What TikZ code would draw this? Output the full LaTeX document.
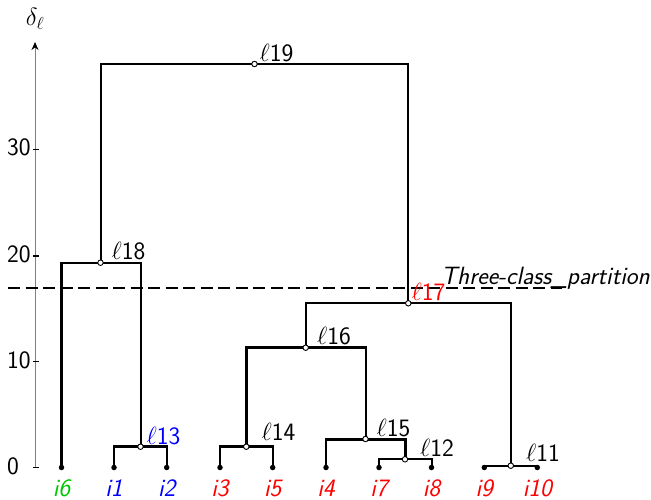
\documentclass[tikz,border=0pt]{standalone}
\usetikzlibrary{arrows.meta,calc}
\definecolor{lgreen}{RGB}{0,200,0}
\definecolor{lred}{RGB}{255,0,0}
\definecolor{lblue}{RGB}{0,0,255}
\begin{document}
\begin{tikzpicture}[x=1pt,y=-1pt,
  br/.style={line width=2pt,line cap=rect},
  thk/.style={line width=3pt,line cap=rect},
  leaf/.style={circle,fill=black,inner sep=0pt,minimum size=5.5pt},
  merge/.style={circle,draw=black,fill=white,line width=0.9pt,inner sep=0pt,minimum size=5.5pt},
  lab/.style={anchor=south west,inner sep=0pt,font=\fontsize{25}{29}\selectfont\sffamily},
  leaflab/.style={anchor=base,inner sep=0pt,font=\fontsize{25}{29}\selectfont\sffamily\itshape},
  ticklab/.style={anchor=west,inner sep=0pt,font=\fontsize{25}{29}\selectfont\sffamily}]
\useasboundingbox (0,0) rectangle (651,500);
% axis
\coordinate (ax0) at (35,467.5);
\coordinate (axtop) at (35,42);
\draw[gray,line width=1pt,-{Stealth[black,length=8pt,width=7pt]}] (ax0) -- (axtop);
\node[inner sep=0pt,font=\fontsize{27}{30}\selectfont] (dl) at (35,19) {$\delta_\ell$};
\foreach \v/\y in {0/467.5,10/361.7,20/256,30/149.3}{
  \draw[line width=1.2pt] (33,\y) -- (38.5,\y);
  \node[ticklab] (t\v) at (7,\y-1.5) {\v};
}
% leaves
\foreach \n/\x in {i6/61.5,i1/114,i2/166.7,i3/220,i5/272.7,i4/326,i7/379,i8/431.5,i9/484.3,i10/537.3}{
  \coordinate (\n) at (\x,467.5);
}
% merges
\coordinate (l11) at (510.8,465.7);
\coordinate (l12) at (405,459.3);
\coordinate (l13) at (140.5,446.7);
\coordinate (l14) at (246.3,446.7);
\coordinate (l15) at (365.5,439);
\coordinate (l16) at (305.7,347.7);
\coordinate (l17) at (408.3,303.3);
\coordinate (l18) at (100.5,262.7);
\coordinate (l19) at (254.5,64);
% dashed partition line
\coordinate (dA) at (8,287.7);
\coordinate (dB) at (562,287.7);
\draw[line width=2pt,dash pattern=on 12pt off 5.5pt] (dA) -- (dB);
\node[anchor=base west,inner sep=0pt,font=\fontsize{25}{29}\selectfont\sffamily\itshape] (part) at (441,284.5) {Three-class\_partition};
% branches
% l11
\draw[br] (i9) -- (i9 |- l11) -- (l11);
\draw[br] (i10) -- (i10 |- l11) -- (l11);
% l12
\draw[br] (i7) -- (i7 |- l12) -- (l12);
\draw[br] (i8) -- (i8 |- l12) -- (l12);
% l13
\draw[br] (i1) -- (i1 |- l13);
\draw[br] (i2) -- (i2 |- l13);
\draw[thk] (i1 |- l13) -- (i2 |- l13);
% l14
\draw[br] (i3) -- (i3 |- l14);
\draw[br] (i5) -- (i5 |- l14);
\draw[thk] (i3 |- l14) -- (i5 |- l14);
% l15
\draw[br] (i4) -- (i4 |- l15);
\draw[thk] (l12) -- (l12 |- l15);
\draw[thk] (i4 |- l15) -- (l12 |- l15);
% l16
\draw[thk] (l14) -- (l14 |- l16);
\draw[br] (l15) -- (l15 |- l16);
\draw[thk] (l14 |- l16) -- (l15 |- l16);
% l17
\draw[br] (l16) -- (l16 |- l17) -- (l17);
\draw[br] (l11) -- (l11 |- l17) -- (l17);
% l18
\draw[thk,line cap=butt] (i6) -- ($(i6 |- l18)+(0,-1)$);
\draw[br] (l13) -- (l13 |- l18);
\draw[br] (i6 |- l18) -- (l13 |- l18);
% l19
\draw[br] (l18) -- (l18 |- l19) -- (l19);
\draw[br] (l17) -- (l17 |- l19) -- (l19);
% dots
\foreach \n in {i6,i1,i2,i3,i5,i4,i7,i8,i9,i10}{ \node[leaf] (d\n) at (\n) {}; }
\foreach \n in {l11,l12,l13,l14,l15,l16,l17,l18,l19}{ \node[merge] (m\n) at (\n) {}; }
% merge labels
\node[lab] (tl19) at (259.5,62) {$\ell$19};
\node[lab] (tl18) at (111.5,260.5) {$\ell$18};
\node[lab,text=lblue] (tl13) at (146.5,445) {$\ell$13};
\node[lab] (tl14) at (261.5,441) {$\ell$14};
\node[lab] (tl16) at (317,345) {$\ell$16};
\node[lab] (tl15) at (376.5,437) {$\ell$15};
\node[lab] (tl12) at (420,457) {$\ell$12};
\node[lab,text=lred] (tl17) at (411.5,301) {$\ell$17};
\node[lab] (tl11) at (526,462) {$\ell$11};
% leaf labels
\node[leaflab,text=lgreen] (ti6) at (i6 |- 0,496) {i6};
\node[leaflab,text=lblue] (ti1) at (i1 |- 0,496) {i1};
\node[leaflab,text=lblue] (ti2) at (i2 |- 0,496) {i2};
\node[leaflab,text=lred] (ti3) at (i3 |- 0,496) {i3};
\node[leaflab,text=lred] (ti5) at (i5 |- 0,496) {i5};
\node[leaflab,text=lred] (ti4) at (i4 |- 0,496) {i4};
\node[leaflab,text=lred] (ti7) at (i7 |- 0,496) {i7};
\node[leaflab,text=lred] (ti8) at (i8 |- 0,496) {i8};
\node[leaflab,text=lred] (ti9) at (i9 |- 0,496) {i9};
\node[leaflab,text=lred] (ti10) at (i10 |- 0,496) {i10};
\end{tikzpicture}
\end{document}
